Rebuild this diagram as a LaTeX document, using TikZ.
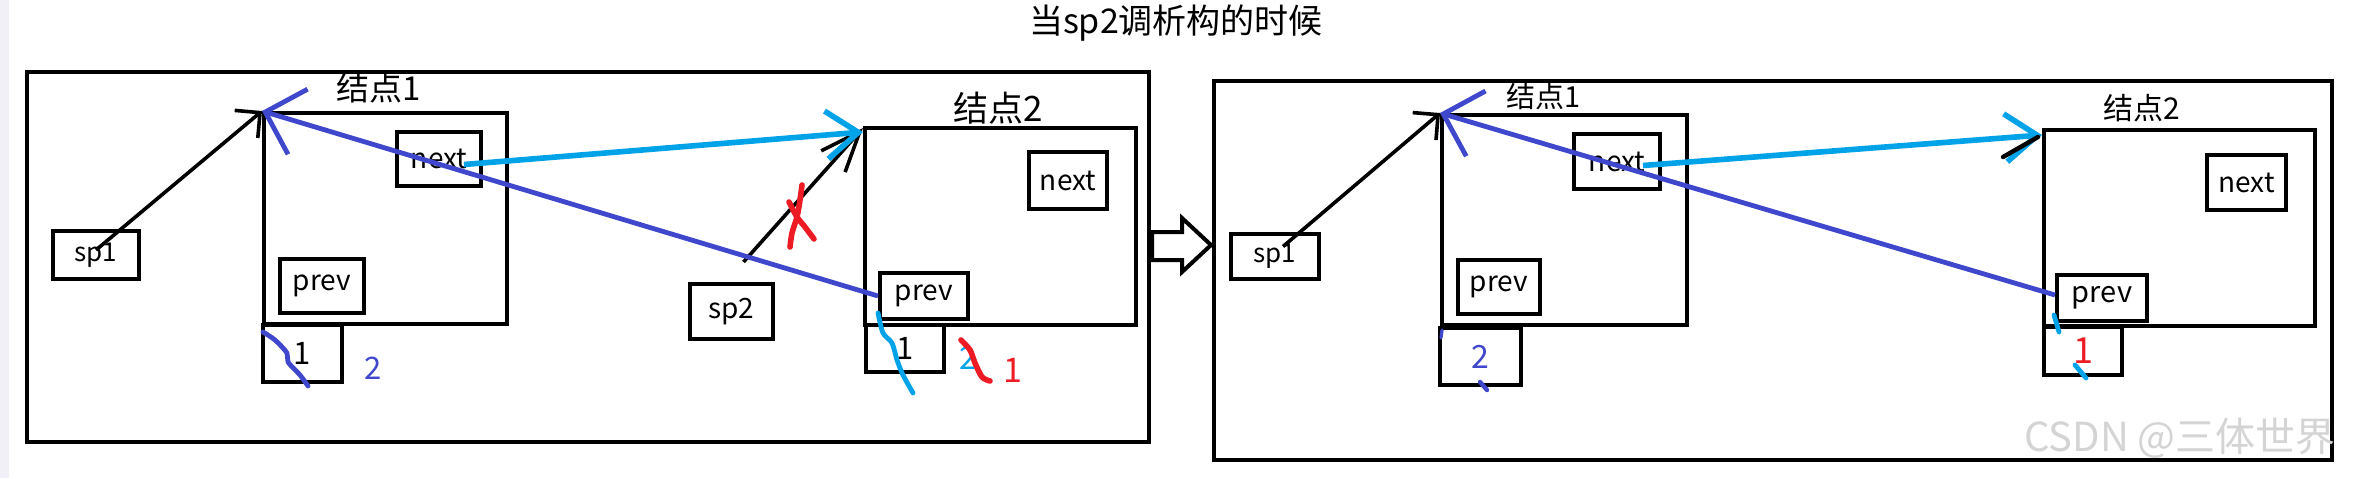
\documentclass[tikz,border=0pt]{standalone}
\usepackage{fontspec}
\setmainfont{Noto Sans CJK SC}
\usetikzlibrary{arrows.meta,positioning}
\definecolor{inkblue}{RGB}{63,72,204}
\definecolor{inkcyan}{RGB}{0,162,232}
\definecolor{inkred}{RGB}{237,28,36}
\definecolor{wmgray}{RGB}{212,212,212}
\definecolor{stripgray}{RGB}{240,240,246}

\begin{document}
\begin{tikzpicture}[
  x=0.5pt, y=-0.5pt,
  drawbox/.style={
    draw,
    line width=2pt,
    inner sep=0pt,
    anchor=north west
  },
  panelframe/.style={drawbox},
  nodebox/.style={drawbox, minimum width=121.5pt, minimum height=105.5pt},
  fieldbox/.style={drawbox, minimum width=42pt, minimum height=27pt, font=\fontsize{14}{14}\selectfont},
  valbox/.style={drawbox, minimum width=39.5pt, minimum height=28.5pt, font=\fontsize{15.5}{15.5}\selectfont},
  ptrbox/.style={drawbox, minimum width=43pt, minimum height=24pt, font=\fontsize{13}{13}\selectfont},
  nodetitle/.style={inner sep=0pt, font=\fontsize{16.5}{16.5}\selectfont},
  numtext/.style={inner sep=0pt, font=\fontsize{15.5}{15.5}\selectfont},
  headline/.style={inner sep=0pt, font=\fontsize{17}{17}\selectfont},
  watermark/.style={inner sep=0pt, text=wmgray, font=\fontsize{20}{20}\selectfont},
  blackptr/.style={draw=black, line width=1.8pt, -{Straight Barb[length=9pt,width=18pt]}},
  blueptr/.style={draw=inkblue, line width=2.4pt, -{Straight Barb[length=17pt,width=34pt]}},
  cyanptr/.style={draw=inkcyan, line width=2.8pt, -{Straight Barb[length=16pt,width=24pt]}},
  inkstroke/.style={line width=2.8pt, line cap=round, line join=round},
  hollowarrow/.style={draw, fill=white, line width=2pt, line join=miter}
]
\useasboundingbox (0,0) rectangle (2364,478);
\fill[white] (0,0) rectangle (2364,478);
\fill[stripgray] (0,0) rectangle (9,478);

\node[headline] (title) at (1176,23) {当sp2调析构的时候};

\node[panelframe, minimum width=561pt, minimum height=185pt] (left) at (25,70) {};
\node[panelframe, minimum width=559pt, minimum height=189.5pt] (right) at (1212,79) {};

\node[nodebox] (n1) at (262,111) {};
\node[nodetitle] (n1t) at (379,88) {结点1};
\node[fieldbox] (next1) at (395,130) {next};
\node[fieldbox] (prev1) at (278,257) {prev};
\node[valbox] (val1) at (261,323) {1};
\node[numtext, text=inkblue] (cnt1) at (373,368) {2};
\node[ptrbox] (sp1) at (51,229) {sp1};

\node[nodebox, minimum width=135.5pt, minimum height=98.5pt] (n2) at (863,126) {};
\node[nodetitle, font=\fontsize{17.5}{17.5}\selectfont] (n2t) at (998,108) {结点2};
\node[fieldbox, minimum width=39pt, minimum height=28.5pt] (next2) at (1027,150) {next};
\node[fieldbox, minimum width=44pt, minimum height=23pt] (prev2) at (878,271) {prev};
\node[valbox, minimum width=39pt, minimum height=23.5pt] (val2) at (864,323) {1};
\node[numtext, text=inkcyan] (cnt2a) at (968,358) {2};
\node[numtext, text=inkred, font=\fontsize{17}{17}\selectfont] (cnt2b) at (1013,370) {1};
\node[ptrbox, minimum width=41.5pt, minimum height=27.5pt, font=\fontsize{14}{14}\selectfont] (sp2) at (688,282) {sp2};

\draw[blackptr] ([yshift=2.5pt]sp1.center) -- (n1.north west);
\draw[blackptr, -{Straight Barb[length=20pt,width=16pt]}] ([xshift=6pt,yshift=10pt]sp2.north) -- ([yshift=-1pt]n2.north west);
\draw[blueptr] (prev2.west) -- (n1.north west);
\draw[cyanptr] ([xshift=12.5pt,yshift=-2.75pt]next1.center) -- ([yshift=-3pt]n2.north west);

\draw[inkstroke, draw=inkred] plot[smooth] coordinates {(802,185) (800,200) (797,217) (792,233) (790,247)};
\draw[inkstroke, draw=inkred] plot[smooth] coordinates {(789,202) (797,217) (805,227) (814,239)};
\draw[inkstroke, draw=inkblue, line width=2.4pt] plot[smooth] coordinates {(263,332) (275,340) (287,353) (288,362) (300,375) (308,386)};
\draw[inkstroke, draw=inkcyan, line width=2.4pt] plot[smooth] coordinates {(878,313) (883,333) (892,343) (897,360) (903,375) (913,393)};
\draw[inkstroke, draw=inkred] plot[smooth] coordinates {(961,340) (970,350) (975,363) (982,377) (990,381)};

\draw[hollowarrow] (1152,232) -- (1182,232) -- (1182,218) -- (1211,245) -- (1182,272) -- (1182,260) -- (1152,260) -- cycle;

\node[ptrbox, minimum width=44pt, minimum height=22.5pt] (sp1R) at (1229,232) {sp1};
\node[nodebox, minimum width=122.5pt, minimum height=105pt] (n1R) at (1440,113) {};
\node[nodetitle, font=\fontsize{14.5}{14.5}\selectfont] (n1Rt) at (1544,96) {结点1};
\node[fieldbox, minimum width=43pt, minimum height=27.5pt] (next1R) at (1572,132) {next};
\node[fieldbox, minimum width=41pt] (prev1R) at (1456,258) {prev};
\node[valbox, minimum width=40.5pt, text=inkblue, font=\fontsize{16}{16}\selectfont] (val1R) at (1438,326) {2};

\node[nodebox, minimum width=135.5pt, minimum height=98pt] (n2R) at (2042,128) {};
\node[nodetitle, font=\fontsize{15}{15}\selectfont] (n2Rt) at (2142,108) {结点2};
\node[fieldbox, minimum width=39.5pt, minimum height=27.5pt] (next2R) at (2205,153) {next};
\node[fieldbox, minimum width=45pt, minimum height=23pt, font=\fontsize{14.5}{14.5}\selectfont] (prev2R) at (2055,273) {prev};
\node[valbox, minimum width=39pt, minimum height=24pt, text=inkred, font=\fontsize{18}{18}\selectfont] (val2R) at (2042,325) {1};

\draw[blackptr] ([xshift=4pt,yshift=5pt]sp1R.center) -- (n1R.north west);
\draw[blueptr] ([yshift=1.5pt]prev2R.west) -- (n1R.north west);
\draw[cyanptr] ([xshift=13pt,yshift=-2pt]next1R.center) -- ([yshift=-3.5pt]n2R.north west);
\draw[inkstroke, draw=black, line width=2.2pt] (2003,157) -- (2038,137);
\draw[inkstroke, draw=inkcyan, line width=2.4pt] (2054,315) -- (2059,332);
\draw[inkstroke, draw=inkcyan, line width=2.4pt] (2075,365) -- (2086,378);
\draw[inkstroke, draw=inkblue, line width=1.6pt] (1442,330) -- (1441,338);
\draw[inkstroke, draw=inkblue, line width=2.2pt] (1480,382) -- (1487,390);

\node[watermark] (wm) at (2180,438) {CSDN @三体世界};
\end{tikzpicture}
\end{document}
